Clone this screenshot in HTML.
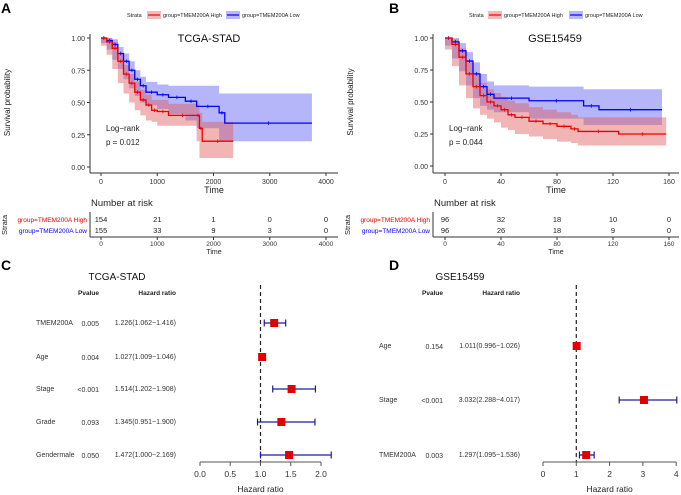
<!DOCTYPE html>
<html><head><meta charset="utf-8"><style>
html,body{margin:0;padding:0;background:#fff;}
svg{display:block;font-family:"Liberation Sans",sans-serif;}
</style></head><body>
<svg id="s" width="681" height="495" viewBox="0 0 681 495" xmlns="http://www.w3.org/2000/svg"></svg>
<script>
// ---- data ----
const aRedT=[0,100,200,300,400,500,600,700,800,900,1000,1200,1700,1750,1800,2350];
const aRedS=[1,0.97,0.92,0.82,0.72,0.65,0.58,0.52,0.48,0.44,0.43,0.40,0.40,0.30,0.20,0.20];
const aRedL=[1,0.94,0.87,0.76,0.65,0.57,0.50,0.44,0.40,0.36,0.35,0.32,0.32,0.20,0.07,0.07];
const aRedU=[1,1,0.97,0.88,0.79,0.72,0.66,0.60,0.56,0.52,0.52,0.49,0.49,0.42,0.35,0.35];
const aBluT=[0,100,200,300,400,500,600,700,800,1000,1200,1500,1700,2100,2200,3750];
const aBluS=[1,0.98,0.95,0.88,0.82,0.75,0.68,0.63,0.58,0.56,0.54,0.51,0.47,0.42,0.34,0.34];
const aBluL=[1,0.96,0.91,0.83,0.76,0.68,0.61,0.55,0.50,0.48,0.45,0.41,0.36,0.30,0.20,0.20];
const aBluU=[1,1,0.99,0.93,0.88,0.82,0.75,0.70,0.66,0.64,0.63,0.63,0.63,0.57,0.57,0.57];
const bRedT=[0,5,10,15,20,25,30,35,40,45,50,60,70,80,90,95,124,158];
const bRedS=[1,0.95,0.85,0.72,0.62,0.55,0.50,0.47,0.44,0.40,0.38,0.35,0.33,0.31,0.29,0.27,0.25,0.25];
const bRedL=[1,0.91,0.78,0.63,0.53,0.45,0.40,0.37,0.34,0.30,0.28,0.25,0.23,0.21,0.19,0.18,0.16,0.16];
const bRedU=[1,0.99,0.92,0.81,0.72,0.65,0.60,0.57,0.54,0.51,0.49,0.46,0.44,0.42,0.40,0.38,0.38,0.38];
const bBluT=[0,5,10,15,20,25,30,35,60,99,110,155];
const bBluS=[1,0.97,0.90,0.82,0.72,0.62,0.56,0.53,0.51,0.47,0.44,0.44];
const bBluL=[1,0.94,0.84,0.74,0.63,0.53,0.47,0.44,0.42,0.37,0.32,0.32];
const bBluU=[1,1,0.96,0.89,0.81,0.72,0.66,0.63,0.62,0.60,0.60,0.60];
const riskA=[[154,21,1,0,0],[155,33,9,3,0]];
const riskB=[[96,32,18,10,0],[96,26,18,9,0]];
const fcLabels=["TMEM200A","Age","Stage","Grade","Gendermale"];
const fcP=["0.005","0.004","<0.001","0.093","0.050"];
const fcHR=[1.226,1.027,1.514,1.345,1.472];
const fcLo=[1.062,1.009,1.202,0.951,1.000];
const fcHi=[1.416,1.046,1.908,1.900,2.169];
const fdLabels=["Age","Stage","TMEM200A"];
const fdP=["0.154","<0.001","0.003"];
const fdHR=[1.011,3.032,1.297];
const fdLo=[0.996,2.288,1.095];
const fdHi=[1.026,4.017,1.536];

const S=document.getElementById('s');const NS="http://www.w3.org/2000/svg";
function el(tag,at,txt){const e=document.createElementNS(NS,tag);for(const k in at)e.setAttribute(k,at[k]);if(txt!==undefined)e.textContent=txt;S.appendChild(e);return e;}
function t(x,y,s,size,anchor,fill,extra){const e=el('text',Object.assign({x:x,y:y,'font-size':size,'text-anchor':anchor||'start',fill:fill||'#222'},extra||{}),s);return e;}
function stepPath(T,V,xf,yf){let d="M"+xf(T[0])+","+yf(V[0]);for(let i=1;i<T.length;i++){d+="H"+xf(T[i])+"V"+yf(V[i]);}return d;}
function band(T,L,U,xf,yf){let d="M"+xf(T[0])+","+yf(U[0]);for(let i=1;i<T.length;i++)d+="H"+xf(T[i])+"V"+yf(U[i]);for(let i=T.length-1;i>=0;i--){d+="V"+yf(L[i]);if(i>0)d+="H"+xf(T[i-1]);}return d+"Z";}

function km(o){
  const xf=v=>o.x0+v*o.kx, yf=v=>o.y1-(o.y1-o.y0)*v;
  t(o.lg[0],17,"Strata",5.5,"start","#222");
  el('rect',{x:o.lg[1],y:11,width:14,height:8,fill:"rgba(230,80,80,0.4)"});
  el('line',{x1:o.lg[1]+1,y1:15,x2:o.lg[1]+13,y2:15,stroke:"#e00","stroke-width":1.2});
  t(o.lg[1]+16,17,"group=TMEM200A High",5.5);
  el('rect',{x:o.lg[2],y:11,width:14,height:8,fill:"rgba(80,80,240,0.4)"});
  el('line',{x1:o.lg[2]+1,y1:15,x2:o.lg[2]+13,y2:15,stroke:"#00f","stroke-width":1.2});
  t(o.lg[2]+16,17,"group=TMEM200A Low",5.5);
  t(0,0,"Survival probability",8,"middle","#222",{transform:`translate(${o.ax-80} ${o.y0+(o.y1-o.y0)/2}) rotate(-90)`});
  const b1=el('path',{d:band(o.bT,o.bL,o.bU,xf,yf),fill:"rgba(90,90,245,0.45)"});
  
  const b2=el('path',{d:band(o.rT,o.rL,o.rU,xf,yf),fill:"rgba(225,90,90,0.45)"});
  
  const l1=el('path',{d:stepPath(o.bT,o.bS,xf,yf),fill:"none",stroke:"#00f","stroke-width":1.3});
  
  const l2=el('path',{d:stepPath(o.rT,o.rS,xf,yf),fill:"none",stroke:"#e00","stroke-width":1.3});
  
  [[o.bT,o.bS,"#00f"],[o.rT,o.rS,"#e00"]].forEach(([T,V,c])=>{for(let i=1;i<T.length;i++){const x=(xf(T[i-1])+xf(T[i]))/2;el('line',{x1:x,x2:x,y1:yf(V[i-1])-1.8,y2:yf(V[i-1])+1.8,stroke:c,"stroke-width":0.8});}});
  el('line',{x1:o.ax,y1:o.y0-4,x2:o.ax,y2:o.axY,stroke:"#333","stroke-width":1});
  el('line',{x1:o.ax,y1:o.axY,x2:o.axEnd,y2:o.axY,stroke:"#333","stroke-width":1});
  [0,0.25,0.5,0.75,1].forEach(v=>{el('line',{x1:o.ax-3,x2:o.ax,y1:yf(v),y2:yf(v),stroke:"#333"});t(o.ax-5,yf(v)+3,v.toFixed(2),7,"end","#333");});
  o.ticks.forEach(v=>{el('line',{x1:xf(v),x2:xf(v),y1:o.axY,y2:o.axY+3,stroke:"#333"});t(xf(v),o.axY+11,String(v),7,"middle","#333");});
  t((o.ax+o.axEnd)/2,o.axY+20,"Time",9,"middle","#222");
  t(o.titleX,42,o.title,11,"middle","#111");
  t(o.ax+16,131,"Log−rank",8,"start","#222");
  t(o.ax+16,145,"p = "+o.p,8,"start","#222");
  t(o.ax+1,206,"Number at risk",9.5,"start","#222");
  el('line',{x1:o.ax,y1:212,x2:o.ax,y2:237,stroke:"#333"});
  el('line',{x1:o.ax,y1:237,x2:o.axEnd,y2:237,stroke:"#333"});
  t(o.ax-3,222,"group=TMEM200A High",6.5,"end","#e00");
  t(o.ax-3,233,"group=TMEM200A Low",6.5,"end","#00f");
  t(0,0,"Strata",7.5,"middle","#222",{transform:`translate(${o.ax-83} 225) rotate(-90)`});
  o.risk.forEach((row,r)=>row.forEach((n,i)=>t(xf(o.ticks[i]),222+r*11,String(n),7.5,"middle","#222")));
  o.ticks.forEach(v=>{el('line',{x1:xf(v),x2:xf(v),y1:237,y2:240,stroke:"#333"});t(xf(v),246,String(v),6.5,"middle","#333");});
  t((o.ax+o.axEnd)/2,254,"Time",7,"middle","#222");
  t(o.letterX,13,o.letter,14,"start","#000",{'font-weight':'bold'});
}
km({letter:"A",letterX:1,ax:90,axEnd:338,axY:173,x0:101,kx:225/4000,y0:38,y1:167,lg:[127,147,226],title:"TCGA-STAD",titleX:209,p:"0.012",
 rT:aRedT,rS:aRedS,rL:aRedL,rU:aRedU,bT:aBluT,bS:aBluS,bL:aBluL,bU:aBluU,ticks:[0,1000,2000,3000,4000],risk:riskA});
km({letter:"B",letterX:389,ax:433,axEnd:679,axY:173,x0:445,kx:224/160,y0:38,y1:166,lg:[469,488,569],title:"GSE15459",titleX:555,p:"0.044",
 rT:bRedT,rS:bRedS,rL:bRedL,rU:bRedU,bT:bBluT,bS:bBluS,bL:bBluL,bU:bBluU,ticks:[0,40,80,120,160],risk:riskB});

function forest(o){
  const xf=v=>o.x0+v*o.kx;
  t(o.letterX,270,o.letter,14,"start","#000",{'font-weight':'bold'});
  t(o.titleX,280,o.title,10,"middle","#111");
  t(o.pX,295,"Pvalue",6.5,"end","#222",{'font-weight':'bold'});
  t(o.hX,295,"Hazard ratio",6.5,"end","#222",{'font-weight':'bold'});
  el('line',{x1:xf(1),x2:xf(1),y1:285,y2:462,stroke:"#222","stroke-dasharray":"4,3","stroke-width":1.2});
  o.lab.forEach((l,i)=>{const y=o.rows[i];
    t(o.lX,y+2,l,7,"start","#333");
    t(o.pX,y+3,o.p[i],7,"end","#333");
    t(o.hX,y+2,o.hr[i].toFixed(3)+"("+o.lo[i].toFixed(3)+"−"+o.hi[i].toFixed(3)+")",7,"end","#333");
    el('line',{x1:xf(o.lo[i]),x2:xf(o.hi[i]),y1:y,y2:y,stroke:"#1a1aa0","stroke-width":1.3});
    el('line',{x1:xf(o.lo[i]),x2:xf(o.lo[i]),y1:y-3.5,y2:y+3.5,stroke:"#1a1aa0","stroke-width":1.2});
    el('line',{x1:xf(o.hi[i]),x2:xf(o.hi[i]),y1:y-3.5,y2:y+3.5,stroke:"#1a1aa0","stroke-width":1.2});
    el('rect',{x:xf(o.hr[i])-4,y:y-4,width:8,height:8,fill:"#e00000"});
  });
  el('line',{x1:xf(o.ticks[0]),x2:xf(o.ticks[o.ticks.length-1]),y1:462,y2:462,stroke:"#555"});
  o.ticks.forEach(v=>{el('line',{x1:xf(v),x2:xf(v),y1:462,y2:466,stroke:"#555"});t(xf(v),477,o.fmt(v),8.5,"middle","#333");});
  t(xf(o.mid),492,"Hazard ratio",8.5,"middle","#222");
}
forest({letter:"C",letterX:1,title:"TCGA-STAD",titleX:117,pX:99,hX:176,lX:36,x0:200,kx:60.5,rows:[323,357,389,422,455],
 lab:fcLabels,p:fcP,hr:fcHR,lo:fcLo,hi:fcHi,ticks:[0,0.5,1,1.5,2],fmt:v=>v.toFixed(1),mid:1.0});
forest({letter:"D",letterX:389,title:"GSE15459",titleX:460,pX:443,hX:520,lX:379,x0:543,kx:33.3,rows:[346,400,455],
 lab:fdLabels,p:fdP,hr:fdHR,lo:fdLo,hi:fdHi,ticks:[0,1,2,3,4],fmt:v=>String(v),mid:2});
</script>
</body></html>
